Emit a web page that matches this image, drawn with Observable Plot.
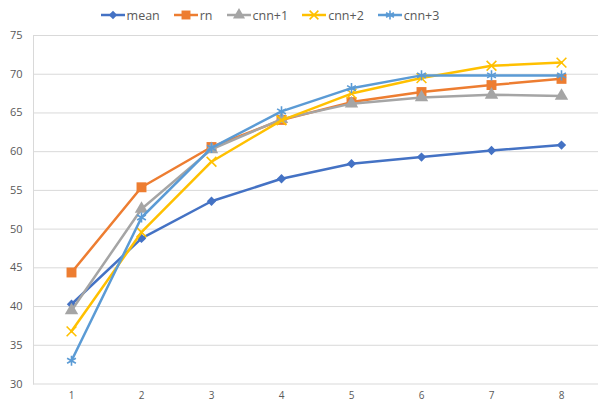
<!DOCTYPE html>
<html><head><meta charset="utf-8">
<script src="https://cdn.jsdelivr.net/npm/d3@7"></script>
<script src="https://cdn.jsdelivr.net/npm/@observablehq/plot@0.6"></script>
<style>
body{margin:0;background:#fff;font-family:"Open Sans",Roboto,sans-serif;}
#legend{height:24px;display:flex;justify-content:center;align-items:center;gap:14px;font-size:12.5px;color:#595959;padding-right:60px;padding-top:6px;box-sizing:border-box;}
#legend .item{display:flex;align-items:center;gap:2px;}
</style></head>
<body>
<div id="legend"></div>
<div id="chart"></div>
<script>
const xs = [1, 2, 3, 4, 5, 6, 7, 8];
const seriesNames = ["mean", "rn", "cnn+1", "cnn+2", "cnn+3"];
const mean  = [40.3, 48.8, 53.6, 56.5, 58.45, 59.3, 60.15, 60.85];
const rn    = [44.4, 55.4, 60.6, 64.1, 66.4, 67.7, 68.6, 69.4];
const cnn1  = [39.5, 52.6, 60.3, 64.2, 66.2, 67.0, 67.35, 67.2];
const cnn2  = [36.8, 49.6, 58.7, 64.05, 67.5, 69.5, 71.1, 71.5];
const cnn3  = [33.0, 51.5, 60.5, 65.2, 68.2, 69.85, 69.85, 69.85];
const yTicks = [30, 35, 40, 45, 50, 55, 60, 65, 70, 75];

const colors = ["#4472C4", "#ED7D31", "#A5A5A5", "#FFC000", "#5B9BD5"];
const symbols = [d3.symbolDiamond2, d3.symbolSquare, d3.symbolTriangle, d3.symbolTimes, d3.symbolAsterisk];
const filled = [true, true, true, false, false];
const radii = [4.2, 5.6, 5, 4.5, 4.8];

const valuesBySeries = [mean, rn, cnn1, cnn2, cnn3];
const data = [];
seriesNames.forEach((s, i) => xs.forEach((x, j) => data.push({series: s, x, y: valuesBySeries[i][j]})));

const marks = [
  Plot.gridY(yTicks, {stroke: "#d9d9d9", strokeOpacity: 1, strokeWidth: 1}),
  Plot.frame({anchor: "left", stroke: "#d9d9d9", strokeOpacity: 1}),
  Plot.axisY(yTicks, {tickSize: 0, tickPadding: 11, label: null, fontSize: 11}),
  Plot.axisX(xs, {tickSize: 0, tickPadding: 8, label: null, fontSize: 10})
];
seriesNames.forEach((s, i) => {
  const d = data.filter(r => r.series === s);
  marks.push(Plot.line(d, {x: "x", y: "y", stroke: colors[i], strokeWidth: 2.5}));
  marks.push(Plot.dot(d, {
    x: "x", y: "y", symbol: () => symbols[i], r: radii[i],
    fill: filled[i] ? colors[i] : "none",
    stroke: filled[i] ? "none" : colors[i],
    strokeWidth: filled[i] ? 0 : 1.6
  }));
});

const chart = Plot.plot({
  width: 600, height: 378,
  marginLeft: 33, marginRight: 2, marginTop: 11, marginBottom: 18.5,
  x: {type: "point", domain: xs, padding: 0.5},
  y: {domain: [30, 75]},
  symbol: {type: "identity"},
  style: {fontFamily: "'Open Sans', Roboto, sans-serif", background: "white", color: "#595959"},
  marks
});
document.getElementById("chart").appendChild(chart);

// legend
const legend = d3.select("#legend");
seriesNames.forEach((s, i) => {
  const item = legend.append("div").attr("class", "item");
  const svg = item.append("svg").attr("width", 24).attr("height", 14);
  svg.append("line").attr("x1", 0).attr("x2", 24).attr("y1", 7).attr("y2", 7)
    .attr("stroke", colors[i]).attr("stroke-width", 2.5);
  const rr = radii[i] * 0.9;
  svg.append("path").attr("transform", "translate(12,7)")
    .attr("d", d3.symbol(symbols[i], Math.PI * rr * rr)())
    .attr("fill", filled[i] ? colors[i] : "none")
    .attr("stroke", filled[i] ? "none" : colors[i])
    .attr("stroke-width", 1.6);
  item.append("span").text(s);
});
</script>
</body></html>
